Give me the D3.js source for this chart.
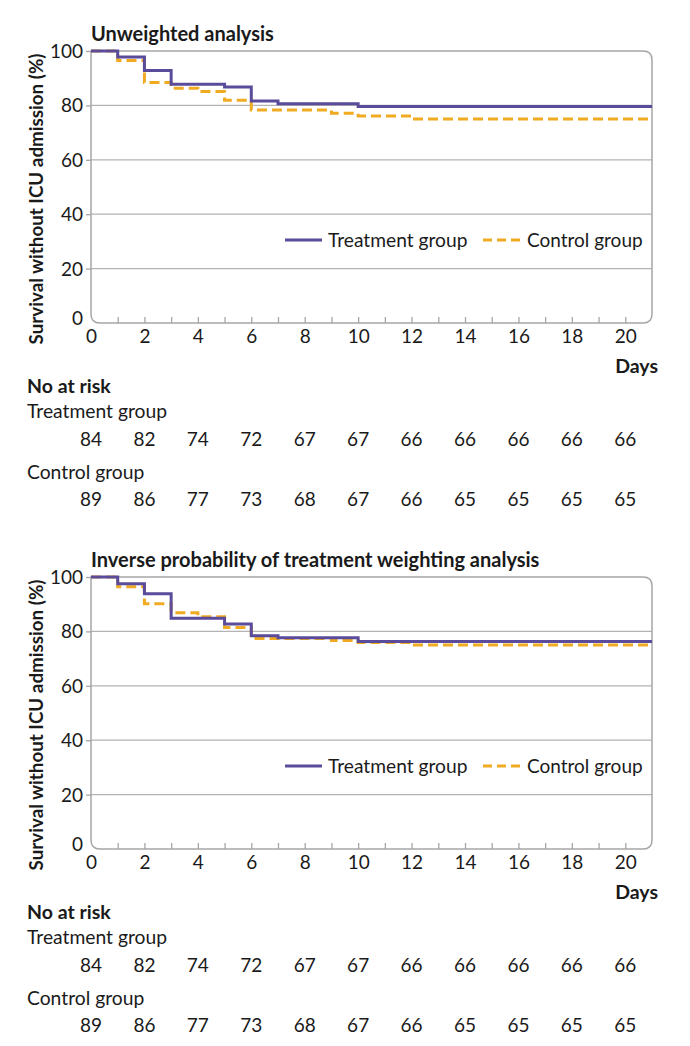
<!DOCTYPE html>
<html><head><meta charset="utf-8">
<script src="https://cdn.jsdelivr.net/npm/d3@7"></script>
<style>
body{margin:0;background:#fff;}
text{font-family:Lato,"Open Sans",sans-serif;fill:#1a1a1a;}
.b{font-weight:700;}
.l{font-weight:400;}
</style></head><body>
<svg id="c" width="690" height="1046"></svg>
<script>
const titles = ["Unweighted analysis", "Inverse probability of treatment weighting analysis"];
const seriesNames = ["Treatment group", "Control group"];
const xTicks = [0,2,4,6,8,10,12,14,16,18,20];
const yTicks = [0,20,40,60,80,100];

// Unweighted analysis
const uwTreatDays = [0,1,2,3,5,6,7,10,21];
const uwTreatSurv = [100,97.8,92.8,87.8,86.8,81.6,80.6,79.6,79.6];
const uwCtrlDays  = [0,1,2,3,4,5,6,9,10,12,21];
const uwCtrlSurv  = [100,96.5,88.4,86.3,85.1,81.9,78.3,77.1,76.1,75.0,75.0];

// IPTW analysis
const ipTreatDays = [0,1,2,3,5,6,7,10,21];
const ipTreatSurv = [100,97.5,93.8,84.8,82.7,78.4,77.7,76.3,76.3];
const ipCtrlDays  = [0,1,2,3,4,5,6,9,10,12,21];
const ipCtrlSurv  = [100,96.4,90.2,86.9,85.4,81.4,77.4,76.7,75.9,75.0,75.0];

// Numbers at risk (same in both panels)
const riskTreat = [84,82,74,72,67,67,66,66,66,66,66];
const riskCtrl  = [89,86,77,73,68,67,66,65,65,65,65];

const TREAT = "#5a4b9b", CTRL = "#f0ab22", GRID = "#b3b3b3", FRAME = "#a6a6a6";
const svg = d3.select("#c");

function panel(oy, title, tDays, tSurv, cDays, cSurv){
  const g = svg.append("g").attr("transform", `translate(0,${oy})`);
  const x = d3.scaleLinear().domain([0,21]).range([91,652]);
  const y = d3.scaleLinear().domain([0,100]).range([323,51]);
  const x0 = x(0), x1 = x(21), y0 = y(0), y1 = y(100), r = 9;

  g.selectAll("line.grid").data(yTicks.filter(d=>d>0 && d<100)).join("line")
    .attr("x1", x0).attr("x2", x1).attr("y1", d=>y(d)).attr("y2", d=>y(d))
    .attr("stroke", GRID).attr("stroke-width", 1.3);

  g.append("path").attr("fill","none").attr("stroke",FRAME).attr("stroke-width",1.5)
    .attr("d", `M${x0},${y1} L${x1-r},${y1} Q${x1},${y1} ${x1},${y1+r} L${x1},${y0-r} Q${x1},${y0} ${x1-r},${y0} L${x0+r},${y0} Q${x0},${y0} ${x0},${y0-r} Z`);

  const ya = d3.axisLeft(y).tickValues(yTicks).tickSize(5).tickPadding(3);
  const yg = g.append("g").attr("transform", `translate(${x0},0)`).call(ya);
  yg.select(".domain").remove();
  yg.selectAll(".tick line").attr("stroke", FRAME).attr("stroke-width",1.3).filter(d=>d===0).remove();
  yg.selectAll(".tick text").attr("class","l").style("font-size","19px").style("font-family","Lato").attr("fill","#1a1a1a")
    .attr("dy", d=> d===0 ? "0.1em" : "0.34em");

  const xa = d3.axisBottom(x).tickValues(d3.range(1,21)).tickSize(-6).tickFormat("");
  const xg = g.append("g").attr("transform", `translate(0,${y0})`).call(xa);
  xg.select(".domain").remove();
  xg.selectAll(".tick line").attr("stroke", FRAME).attr("stroke-width",1.3);
  const xl = d3.axisBottom(x).tickValues(xTicks).tickSize(0).tickPadding(7);
  const xlg = g.append("g").attr("transform", `translate(0,${y0})`).call(xl);
  xlg.select(".domain").remove();
  xlg.selectAll(".tick text").attr("class","l").style("font-size","19px").style("font-family","Lato").attr("fill","#1a1a1a");

  const line = d3.line().x(d=>x(d[0])).y(d=>y(d[1])).curve(d3.curveStepAfter);
  g.append("path").datum(d3.zip(cDays,cSurv)).attr("d", line).attr("fill","none")
    .attr("stroke", CTRL).attr("stroke-width",3).attr("stroke-dasharray","10,5");
  g.append("path").datum(d3.zip(tDays,tSurv)).attr("d", line).attr("fill","none")
    .attr("stroke", TREAT).attr("stroke-width",3);

  g.append("text").attr("class","b").attr("x",91).attr("y",41).style("font-size","20px").text(title);

  g.append("text").attr("class","b").attr("transform","translate(43,199) rotate(-90)")
    .attr("text-anchor","middle").style("font-size","18.8px").text("Survival without ICU admission (%)");

  const ly = y(30.5);
  g.append("line").attr("x1",285).attr("x2",322).attr("y1",ly).attr("y2",ly).attr("stroke",TREAT).attr("stroke-width",3);
  g.append("text").attr("x",328).attr("y",ly).attr("dy","0.35em").style("font-size","19.2px").text(seriesNames[0]);
  g.append("line").attr("x1",483).attr("x2",523).attr("y1",ly).attr("y2",ly).attr("stroke",CTRL).attr("stroke-width",3).attr("stroke-dasharray","9,5");
  g.append("text").attr("x",527).attr("y",ly).attr("dy","0.35em").style("font-size","19px").text(seriesNames[1]);

  g.append("text").attr("class","b").attr("x",658).attr("y",373).attr("text-anchor","end").style("font-size","19.5px").text("Days");

  g.append("text").attr("class","b").attr("x",27).attr("y",393).style("font-size","19.5px").text("No at risk");
  g.append("text").attr("x",27).attr("y",418).style("font-size","19.3px").text(seriesNames[0]);
  g.selectAll("text.rt").data(riskTreat).join("text").attr("class","rt")
    .attr("x",(d,i)=>x(xTicks[i])).attr("y",446).attr("text-anchor","middle").style("font-size","19px").text(d=>d);
  g.append("text").attr("x",27).attr("y",479).style("font-size","19.3px").text(seriesNames[1]);
  g.selectAll("text.rc").data(riskCtrl).join("text").attr("class","rc")
    .attr("x",(d,i)=>x(xTicks[i])).attr("y",506).attr("text-anchor","middle").style("font-size","19px").text(d=>d);
}

panel(0, titles[0], uwTreatDays, uwTreatSurv, uwCtrlDays, uwCtrlSurv);
panel(526, titles[1], ipTreatDays, ipTreatSurv, ipCtrlDays, ipCtrlSurv);
</script>
</body></html>
